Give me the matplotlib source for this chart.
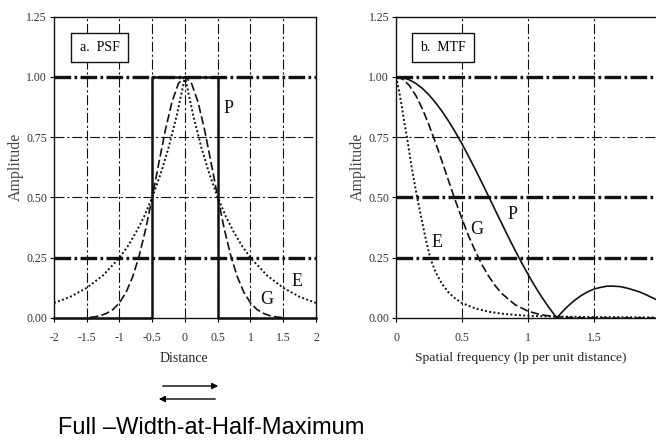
import matplotlib
matplotlib.use("Agg")
import matplotlib.pyplot as plt

# ---- data ----
# a. PSF
psf_p_x = [-2, -0.5, -0.5, 0.5, 0.5, 2]
psf_p_y = [0, 0, 1, 1, 0, 0]

psf_g_x = [-1.45, -1.4, -1.3, -1.2, -1.1, -1.0, -0.9, -0.8, -0.7, -0.6, -0.5,
           -0.4, -0.3, -0.2, -0.1, 0.0, 0.1, 0.2, 0.3, 0.4, 0.5, 0.6, 0.7,
           0.8, 0.9, 1.0, 1.1, 1.2, 1.3, 1.4, 1.5]
psf_g_y = [0.003, 0.004, 0.009, 0.019, 0.035, 0.063, 0.106, 0.170, 0.257,
           0.369, 0.5, 0.642, 0.779, 0.895, 0.973, 1.0, 0.973, 0.895, 0.779,
           0.642, 0.5, 0.369, 0.257, 0.170, 0.106, 0.063, 0.035, 0.019,
           0.009, 0.004, 0.002]

psf_e_x = [-2.0, -1.75, -1.5, -1.25, -1.0, -0.875, -0.75, -0.625, -0.5,
           -0.375, -0.25, -0.125, 0.0, 0.125, 0.25, 0.375, 0.5, 0.625,
           0.75, 0.875, 1.0, 1.25, 1.5, 1.75, 2.0]
psf_e_y = [0.0625, 0.088, 0.125, 0.177, 0.25, 0.297, 0.354, 0.420, 0.5,
           0.595, 0.707, 0.841, 1.0, 0.841, 0.707, 0.595, 0.5, 0.420,
           0.354, 0.297, 0.25, 0.177, 0.125, 0.088, 0.0625]

# b. MTF
mtf_p_f = [0.0, 0.05, 0.1, 0.15, 0.2, 0.25, 0.3, 0.35, 0.4, 0.45, 0.5, 0.55,
           0.6, 0.65, 0.7, 0.75, 0.8, 0.85, 0.9, 0.95, 1.0, 1.05, 1.1, 1.15,
           1.2, 1.22, 1.25, 1.3, 1.35, 1.4, 1.45, 1.5, 1.55, 1.6, 1.65, 1.7,
           1.75, 1.8, 1.85, 1.9, 1.95, 2.0]
mtf_p_v = [1.0, 0.997, 0.988, 0.973, 0.952, 0.925, 0.893, 0.856, 0.815,
           0.770, 0.722, 0.670, 0.617, 0.562, 0.506, 0.449, 0.393, 0.337,
           0.283, 0.231, 0.181, 0.134, 0.090, 0.050, 0.013, 0.0, 0.020,
           0.048, 0.072, 0.092, 0.108, 0.120, 0.127, 0.132, 0.132, 0.130,
           0.124, 0.116, 0.107, 0.095, 0.082, 0.068]

mtf_g_f = [0.0, 0.05, 0.1, 0.15, 0.2, 0.25, 0.3, 0.35, 0.4, 0.45, 0.5, 0.55,
           0.6, 0.65, 0.7, 0.75, 0.8, 0.9, 1.0, 1.1, 1.2, 1.3, 1.4, 1.5,
           1.75, 2.0]
mtf_g_v = [1.0, 0.991, 0.965, 0.923, 0.867, 0.800, 0.726, 0.647, 0.566,
           0.486, 0.411, 0.340, 0.278, 0.222, 0.175, 0.135, 0.102, 0.056,
           0.028, 0.013, 0.006, 0.002, 0.001, 0.0, 0.0, 0.0]

mtf_e_f = [0.0, 0.02, 0.04, 0.06, 0.083, 0.1, 0.12, 0.14, 0.16, 0.19, 0.22,
           0.258, 0.3, 0.35, 0.4, 0.45, 0.5, 0.6, 0.7, 0.8, 0.9, 1.0, 1.2,
           1.5, 1.8, 2.0]
mtf_e_v = [1.0, 0.95, 0.89, 0.82, 0.75, 0.69, 0.62, 0.56, 0.50, 0.42, 0.34,
           0.25, 0.19, 0.14, 0.105, 0.08, 0.062, 0.04, 0.026, 0.018, 0.013,
           0.009, 0.006, 0.004, 0.003, 0.002]

y_ticks = [0.0, 0.25, 0.5, 0.75, 1.0, 1.25]
y_labels = ["0.00", "0.25", "0.50", "0.75", "1.00", "1.25"]
psf_ticks = [-2, -1.5, -1, -0.5, 0, 0.5, 1, 1.5, 2]
psf_labels = ["-2", "-1.5", "-1", "-0.5", "0", "0.5", "1", "1.5", "2"]
mtf_ticks = [0, 0.5, 1, 1.5]
mtf_labels = ["0", "0.5", "1", "1.5"]

serif = "Liberation Serif"
ink = "#111111"

fig = plt.figure(figsize=(6.56, 4.44), dpi=100)
ax1 = fig.add_axes([0.0823, 0.2838, 0.3994, 0.6788])
ax2 = fig.add_axes([0.6037, 0.2838, 0.4024, 0.6788])

thin_dd = (0, (9, 2.5, 2, 2.5))
thick_dd = (0, (5, 1, 0.8, 1))


def frame(ax, xticks, xlabels, xlim, thick_levels):
    ax.set_xlim(xlim)
    ax.set_ylim(0, 1.25)
    for v in xticks[1:]:
        if v < xlim[1]:
            ax.axvline(v, color=ink, lw=0.8, ls=thin_dd, zorder=1)
    for v in y_ticks[1:-1]:
        if v in thick_levels:
            ax.axhline(v, color=ink, lw=2.4, ls=thick_dd, zorder=1)
        else:
            ax.axhline(v, color=ink, lw=0.8, ls=thin_dd, zorder=1)
    ax.set_xticks(xticks)
    ax.set_xticklabels(xlabels, fontfamily=serif, fontsize=8.5, color="#333333")
    ax.set_yticks(y_ticks)
    ax.set_yticklabels(y_labels, fontfamily=serif, fontsize=8.5, color="#333333")
    ax.tick_params(direction="out", length=3, width=0.8, pad=2)
    ax.tick_params(axis="x", pad=7)
    for s in ax.spines.values():
        s.set_linewidth(1.0)
        s.set_color(ink)
    ax.set_ylabel("Amplitude", fontfamily=serif, fontsize=11.5,
                  color="#444444", labelpad=2)


frame(ax1, psf_ticks, psf_labels, (-2, 2), [0.25, 1.0])
frame(ax2, mtf_ticks, mtf_labels, (0, 2), [0.25, 0.5, 1.0])

# a. PSF curves
ax1.plot(psf_p_x, psf_p_y, color=ink, lw=1.8, zorder=3, clip_on=False)
ax1.plot(psf_g_x, psf_g_y, color=ink, lw=1.2, ls=(0, (5, 2)), zorder=3)
ax1.plot(psf_e_x, psf_e_y, color=ink, lw=1.4, ls=(0, (1, 1.2)), zorder=3)
ax1.set_xlabel("Distance", fontfamily=serif, fontsize=10, color="#222222")
ax1.xaxis.set_label_coords(0.495, -0.112)

# b. MTF curves
ax2.plot(mtf_p_f, mtf_p_v, color=ink, lw=1.2, zorder=3)
ax2.plot(mtf_g_f, mtf_g_v, color=ink, lw=1.2, ls=(0, (5, 2)), zorder=3)
ax2.plot(mtf_e_f, mtf_e_v, color=ink, lw=1.4, ls=(0, (1, 1.2)), zorder=3)
ax2.set_xlabel("Spatial frequency (lp per unit distance)", fontfamily=serif,
               fontsize=9.7, color="#222222")
ax2.xaxis.set_label_coords(0.473, -0.112)

# panel titles in boxes
box = dict(boxstyle="square,pad=0.6", fc="white", ec=ink, lw=1.0)
ax1.text(-1.305, 1.122, "a.  PSF", fontfamily=serif, fontsize=10,
         ha="center", va="center", bbox=box, zorder=5)
ax2.text(0.356, 1.122, "b.  MTF", fontfamily=serif, fontsize=10,
         ha="center", va="center", bbox=box, zorder=5)

# curve letters
lab = dict(fontfamily=serif, fontsize=13, color=ink, ha="center", va="center")
ax1.text(0.66, 0.87, "P", **lab)
ax1.text(1.25, 0.075, "G", **lab)
ax1.text(1.71, 0.15, "E", **lab)
ax2.text(0.88, 0.43, "P", **lab)
ax2.text(0.614, 0.366, "G", **lab)
ax2.text(0.311, 0.315, "E", **lab)

# FWHM arrows and caption
fig.patches.append(matplotlib.patches.FancyArrowPatch(
    (160 / 656, 1 - 386 / 444), (221 / 656, 1 - 386 / 444),
    transform=fig.transFigure, arrowstyle="-|>", mutation_scale=9,
    color="black", lw=1.0))
fig.patches.append(matplotlib.patches.FancyArrowPatch(
    (218 / 656, 1 - 399 / 444), (156 / 656, 1 - 399 / 444),
    transform=fig.transFigure, arrowstyle="-|>", mutation_scale=9,
    color="black", lw=1.0))
fig.text(58 / 656, 1 - 428 / 444, "Full \u2013Width-at-Half-Maximum",
         fontfamily="Liberation Sans", fontsize=17, color="black",
         ha="left", va="center")

fig.savefig("out.png", dpi=100)
